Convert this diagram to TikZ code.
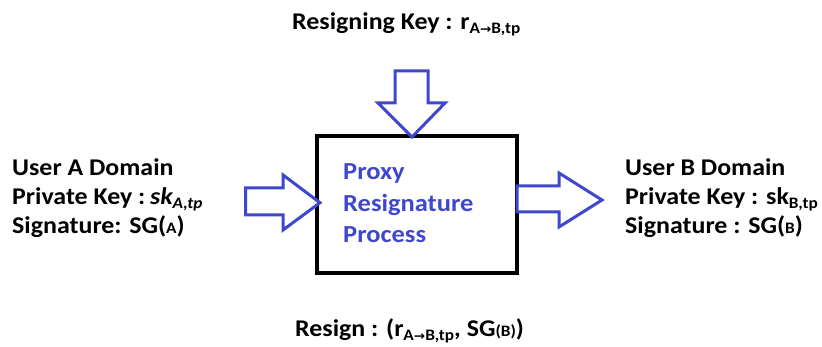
\documentclass[tikz,border=0pt]{standalone}
\usepackage{fontspec}
\setmainfont{Carlito}
\newfontfamily\arrfont{DejaVu Sans}
\definecolor{arrblue}{RGB}{63,72,204}
\newcommand{\subx}[1]{\raisebox{-3.5pt}{\fontsize{16}{16}\selectfont #1}}
\newcommand{\smallc}[1]{{\fontsize{16}{16}\selectfont #1}}
\newcommand{\rarr}{{\arrfont\fontsize{12.5}{12.5}\selectfont\bfseries →}}
\newcommand{\wx}[1]{\scalebox{1.08}[1]{#1}}
\begin{document}
\begin{tikzpicture}[x=1pt,y=-1pt,
  lbl/.style={anchor=base west, inner sep=0, font=\bfseries\fontsize{24}{28}\selectfont},
  boxlbl/.style={anchor=base west, inner sep=0, text=arrblue, font=\bfseries\fontsize{24.5}{28}\selectfont},
  blockarrow/.style={draw=arrblue, line width=3pt, fill=white, line join=miter},
  procbox/.style={draw, line width=4pt, minimum width=200pt, minimum height=137pt, inner sep=0}]
\useasboundingbox (0,0) rectangle (822,347);
\node[procbox] (box) at (417,204.5) {};
% block arrows
\draw[blockarrow] (245.7,188) -- (283,188) -- (283,175) -- (320,202.7) -- (283,230) -- (283,215) -- (245.7,215) -- cycle;
\draw[blockarrow] (517,186) -- (559,186) -- (559,173) -- (602,200) -- (559,227) -- (559,212) -- (517,212) -- cycle;
\draw[blockarrow] (395,71) -- (428,71) -- (428,103) -- (445,103) -- (412,137) -- (378,103) -- (395,103) -- cycle;
% box text
\node[boxlbl] (p1) at (343,180) {\wx{Proxy}};
\node[boxlbl] (p2) at (343,212) {\wx{Resignature}};
\node[boxlbl] (p3) at (343,243) {\wx{Process}};
% top
\node[lbl] (top) at (292,30) {\wx{Resigning Key : r\subx{A\rarr B,tp}}};
% left
\node[lbl] (a1) at (12,176) {\wx{User A Domain}};
\node[lbl] (a2) at (12,205) {\wx{Private Key :\hspace{0.18em}\textit{sk\subx{A,tp}}}};
\node[lbl] (a3) at (12,234) {\wx{Signature: SG(\smallc{A})}};
% right
\node[lbl] (b1) at (625,176) {\wx{User B Domain}};
\node[lbl] (b2) at (625,205) {\wx{Private Key : sk\subx{B,tp}}};
\node[lbl] (b3) at (625,234) {\wx{Signature : SG(\smallc{B})}};
% bottom
\node[lbl] (bot) at (295,337) {\wx{Resign : (r\subx{A\rarr B,tp}, SG\smallc{(B)})}};
\end{tikzpicture}
\end{document}
